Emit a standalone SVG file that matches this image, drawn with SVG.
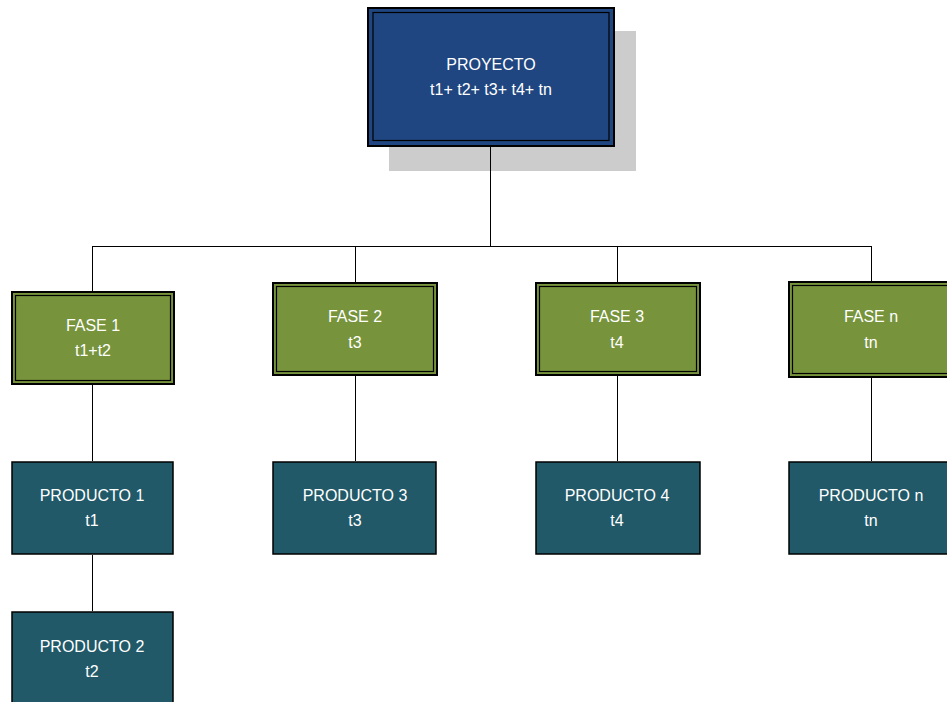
<svg xmlns="http://www.w3.org/2000/svg" width="947" height="702" viewBox="0 0 947 702">
  <style>
    .lbl { font-family: "Liberation Sans", Arial, sans-serif; font-size: 16px; fill: #ffffff; text-anchor: middle; }
    .line { stroke: #000000; stroke-width: 1; fill: none; }
    .outer { stroke: #000000; stroke-width: 2; }
    .inner { stroke: #000000; stroke-width: 1.2; fill: none; }
    .proj { fill: #1f4680; }
    .fase { fill: #77933c; }
    .prod { fill: #215968; stroke: #000000; stroke-width: 1.5; }
  </style>
  <rect width="947" height="702" fill="#ffffff"/>

  <g id="proyecto">
    <rect x="389" y="31" width="247" height="140" fill="#cccccc"/>
    <rect class="proj outer" x="368" y="8" width="246" height="138"/>
    <rect class="inner" x="373" y="12.5" width="236" height="128"/>
    <text class="lbl" x="491" y="70">PROYECTO</text>
    <text class="lbl" x="491" y="95">t1+ t2+ t3+ t4+ tn</text>
  </g>

  <g id="fase1">
    <rect class="fase outer" x="12" y="292" width="162" height="92"/>
    <rect class="inner" x="15.5" y="295.5" width="155" height="85"/>
    <text class="lbl" x="93" y="331">FASE 1</text>
    <text class="lbl" x="93" y="356">t1+t2</text>
  </g>

  <g id="fase2">
    <rect class="fase outer" x="273" y="283" width="164" height="92"/>
    <rect class="inner" x="276.5" y="286.5" width="157" height="85"/>
    <text class="lbl" x="355" y="322">FASE 2</text>
    <text class="lbl" x="355" y="348">t3</text>
  </g>

  <g id="fase3">
    <rect class="fase outer" x="536" y="283" width="164" height="92"/>
    <rect class="inner" x="539.5" y="286.5" width="157" height="85"/>
    <text class="lbl" x="617" y="322">FASE 3</text>
    <text class="lbl" x="617" y="348">t4</text>
  </g>

  <g id="fasen">
    <rect class="fase outer" x="789" y="282" width="170" height="95"/>
    <rect class="inner" x="792.5" y="285.5" width="170" height="88"/>
    <text class="lbl" x="871" y="322">FASE n</text>
    <text class="lbl" x="871" y="348">tn</text>
  </g>

  <g id="producto1">
    <rect class="prod" x="12" y="462" width="161" height="92"/>
    <text class="lbl" x="92" y="501">PRODUCTO 1</text>
    <text class="lbl" x="92" y="526">t1</text>
  </g>

  <g id="producto2">
    <rect class="prod" x="12" y="612" width="161" height="100"/>
    <text class="lbl" x="92" y="652">PRODUCTO 2</text>
    <text class="lbl" x="92" y="677">t2</text>
  </g>

  <g id="producto3">
    <rect class="prod" x="273" y="462" width="163" height="92"/>
    <text class="lbl" x="355" y="501">PRODUCTO 3</text>
    <text class="lbl" x="355" y="526">t3</text>
  </g>

  <g id="producto4">
    <rect class="prod" x="536" y="462" width="164" height="92"/>
    <text class="lbl" x="617" y="501">PRODUCTO 4</text>
    <text class="lbl" x="617" y="526">t4</text>
  </g>

  <g id="producton">
    <rect class="prod" x="789" y="462" width="170" height="92"/>
    <text class="lbl" x="871" y="501">PRODUCTO n</text>
    <text class="lbl" x="871" y="526">tn</text>
  </g>

  <!-- connectors drawn last so the trunk line stays visible over the shadow -->
  <g id="connectors">
    <path class="line" d="M490.5 147 V246.5"/>
    <path class="line" d="M92.5 246.5 H871.5"/>
    <path class="line" d="M92.5 246 V291 M355.5 246 V282 M617.5 246 V282 M871.5 246 V281"/>
    <path class="line" d="M92.5 385 V461 M355.5 376 V461 M617.5 376 V461 M871.5 378 V461"/>
    <path class="line" d="M92.5 555 V611"/>
  </g>
</svg>
